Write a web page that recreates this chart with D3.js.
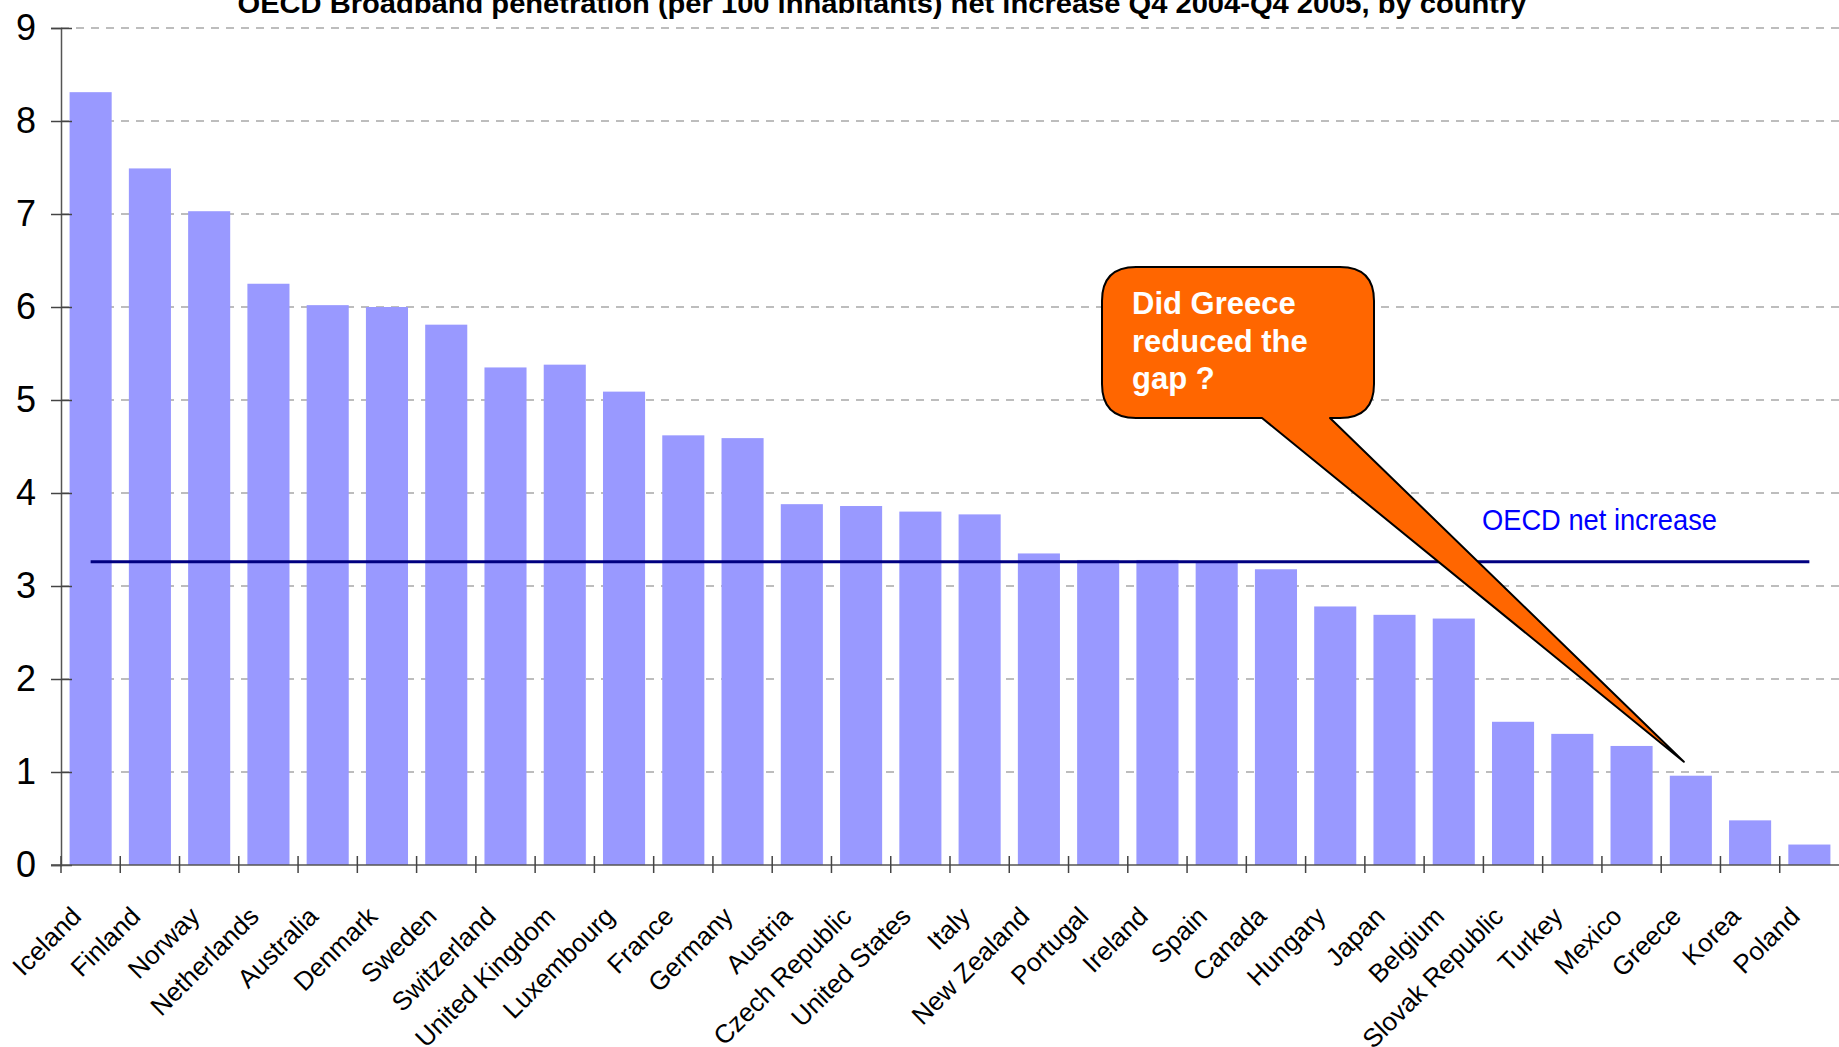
<!DOCTYPE html>
<html>
<head>
<meta charset="utf-8">
<script src="https://cdn.jsdelivr.net/npm/d3@7"></script>
<style>
    body { margin: 0; background: #ffffff; }
    svg { display: block; font-family: "Liberation Sans", Arial, sans-serif; }
</style>
</head>
<body>
<svg id="svgBroadband" width="1839" height="1047"></svg>
<script>
// Net increase of broadband subscribers per 100 inhabitants, Q4 2004 - Q4 2005
var countries = ["Iceland", "Finland", "Norway", "Netherlands", "Australia", "Denmark",
    "Sweden", "Switzerland", "United Kingdom", "Luxembourg", "France", "Germany",
    "Austria", "Czech Republic", "United States", "Italy", "New Zealand", "Portugal",
    "Ireland", "Spain", "Canada", "Hungary", "Japan", "Belgium", "Slovak Republic",
    "Turkey", "Mexico", "Greece", "Korea", "Poland"];

var netIncrease = [8.31, 7.49, 7.03, 6.25, 6.02, 6.0,
    5.81, 5.35, 5.38, 5.09, 4.62, 4.59,
    3.88, 3.86, 3.80, 3.77, 3.35, 3.28,
    3.28, 3.26, 3.18, 2.78, 2.69, 2.65, 1.54,
    1.41, 1.28, 0.96, 0.48, 0.22];

// OECD wide net increase, drawn as a horizontal line
var oecdNetIncrease = 3.26;

var yTicks = [0, 1, 2, 3, 4, 5, 6, 7, 8, 9];

var titleText = "OECD Broadband penetration (per 100 inhabitants) net increase Q4 2004-Q4 2005, by country";
var calloutLines = ["Did Greece", "reduced the", "gap ?"];

function broadbandChart() {
    /*
    Draws the bar chart with the OECD line and the Greece callout
    */

    var padding = {
        top: 28,
        right: 0,
        bottom: 182,
        left: 61
    };

    var svgWidth = 1839;
    var svgHeight = 1047;

    var chartBottom = svgHeight - padding.bottom;

    var svg = d3.select("#svgBroadband");

    // Scaling function for the categories
    var xScale = d3.scaleBand()
        .domain(countries)
        .range([padding.left, svgWidth - padding.right])
        .paddingInner(0.29)
        .paddingOuter(0.145);

    // Scaling function for the values
    var yScale = d3.scaleLinear()
        .domain([0, 9])
        .range([chartBottom, padding.top]);

    // Dashed horizontal gridlines
    svg.append("g")
        .attr("class", "grid")
        .selectAll("line")
        .data(yTicks.slice(1))
        .enter()
        .append("line")
            .attr("x1", padding.left)
            .attr("x2", svgWidth)
            .attr("y1", d => yScale(d))
            .attr("y2", d => yScale(d))
            .attr("stroke", "#a8a8a8")
            .attr("stroke-width", 1.6)
            .attr("stroke-dasharray", "8,7");

    // Bars
    svg.append("g")
        .attr("class", "bars")
        .selectAll("rect")
        .data(countries)
        .enter()
        .append("rect")
            .attr("x", d => xScale(d))
            .attr("y", (d, i) => yScale(netIncrease[i]))
            .attr("width", xScale.bandwidth())
            .attr("height", (d, i) => chartBottom - yScale(netIncrease[i]))
            .attr("fill", "#9999ff");

    // y-axis
    var yAxis = svg.append("g")
        .attr("class", "axis")
        .attr("transform", `translate(${padding.left}, 0)`)
        .call(d3.axisLeft(yScale)
            .tickValues(yTicks)
            .tickSize(10)
            .tickPadding(0)
            .tickFormat(d3.format("d"))
        );

    yAxis.select(".domain")
        .attr("stroke", "#555")
        .attr("stroke-width", 1.5);

    // Ticks cross the axis
    yAxis.selectAll(".tick line")
        .attr("x1", 11)
        .attr("stroke", "#444")
        .attr("stroke-width", 1.5);

    yAxis.selectAll(".tick text")
        .attr("x", -25)
        .attr("dy", "0.33em")
        .attr("font-size", 36)
        .attr("font-family", "\"Liberation Sans\", Arial, sans-serif")
        .attr("fill", "#000");

    // x-axis line
    svg.append("line")
        .attr("x1", padding.left - 10)
        .attr("x2", svgWidth)
        .attr("y1", chartBottom)
        .attr("y2", chartBottom)
        .attr("stroke", "#555")
        .attr("stroke-width", 1.5);

    // Tick marks between categories
    var step = xScale.step();
    svg.append("g")
        .attr("class", "xticks")
        .selectAll("line")
        .data(countries)
        .enter()
        .append("line")
            .attr("x1", d => xScale(d) - step * xScale.paddingOuter())
            .attr("x2", d => xScale(d) - step * xScale.paddingOuter())
            .attr("y1", chartBottom - 9)
            .attr("y2", chartBottom + 8)
            .attr("stroke", "#444")
            .attr("stroke-width", 1.5);

    // Rotated category labels
    var xAxis = svg.append("g")
        .attr("class", "axis")
        .attr("transform", `translate(0, ${chartBottom})`)
        .call(d3.axisBottom(xScale).tickSize(0));

    xAxis.select(".domain").remove();

    xAxis.selectAll(".tick text")
        .attr("x", 0)
        .attr("y", 0)
        .attr("dy", 0)
        .attr("transform", "translate(-8, 53) rotate(-45)")
        .attr("text-anchor", "end")
        .attr("font-size", 26)
        .attr("font-family", "\"Liberation Sans\", Arial, sans-serif")
        .attr("fill", "#000");

    // OECD net increase line, from first to last category centre
    var oecdLine = d3.line()
        .x(d => xScale(d) + xScale.bandwidth() / 2)
        .y(() => yScale(oecdNetIncrease));

    svg.append("path")
        .datum([countries[0], countries[countries.length - 1]])
        .attr("d", oecdLine)
        .attr("fill", "none")
        .attr("stroke", "#000080")
        .attr("stroke-width", 3);

    svg.append("text")
        .attr("x", 1482)
        .attr("y", yScale(oecdNetIncrease) - 32)
        .attr("font-size", 30)
        .attr("textLength", 235)
        .attr("lengthAdjust", "spacingAndGlyphs")
        .attr("fill", "#0000ff")
        .text("OECD net increase");

    // Callout pointing at Greece
    var greeceIndex = countries.indexOf("Greece");
    var tipX = xScale("Greece") + xScale.bandwidth() / 2 - 7;
    var tipY = yScale(netIncrease[greeceIndex]) - 14;

    var box = { left: 1102, right: 1374, top: 267, bottom: 418, r: 34 };
    var pointerLeft = 1262;
    var pointerRight = 1330;

    var callout = d3.path();
    callout.moveTo(box.left + box.r, box.top);
    callout.lineTo(box.right - box.r, box.top);
    callout.quadraticCurveTo(box.right, box.top, box.right, box.top + box.r);
    callout.lineTo(box.right, box.bottom - box.r);
    callout.quadraticCurveTo(box.right, box.bottom, box.right - box.r, box.bottom);
    callout.lineTo(pointerRight, box.bottom);
    callout.lineTo(tipX, tipY);
    callout.lineTo(pointerLeft, box.bottom);
    callout.lineTo(box.left + box.r, box.bottom);
    callout.quadraticCurveTo(box.left, box.bottom, box.left, box.bottom - box.r);
    callout.lineTo(box.left, box.top + box.r);
    callout.quadraticCurveTo(box.left, box.top, box.left + box.r, box.top);
    callout.closePath();

    svg.append("path")
        .attr("d", callout.toString())
        .attr("fill", "#ff6600")
        .attr("stroke", "#000")
        .attr("stroke-width", 2)
        .attr("stroke-linejoin", "round");

    svg.append("g")
        .attr("class", "callout-text")
        .selectAll("text")
        .data(calloutLines)
        .enter()
        .append("text")
            .attr("x", 1132)
            .attr("y", (d, i) => 314 + i * 37.5)
            .attr("font-size", 31)
            .attr("font-weight", "bold")
            .attr("fill", "#ffffff")
            .text(d => d);

    // Title, partly cut off at the top edge
    svg.append("text")
        .attr("x", 882)
        .attr("y", 13)
        .attr("text-anchor", "middle")
        .attr("font-size", 27)
        .attr("font-weight", "bold")
        .attr("textLength", 1289)
        .attr("lengthAdjust", "spacingAndGlyphs")
        .text(titleText);
}

broadbandChart();
</script>
</body>
</html>
